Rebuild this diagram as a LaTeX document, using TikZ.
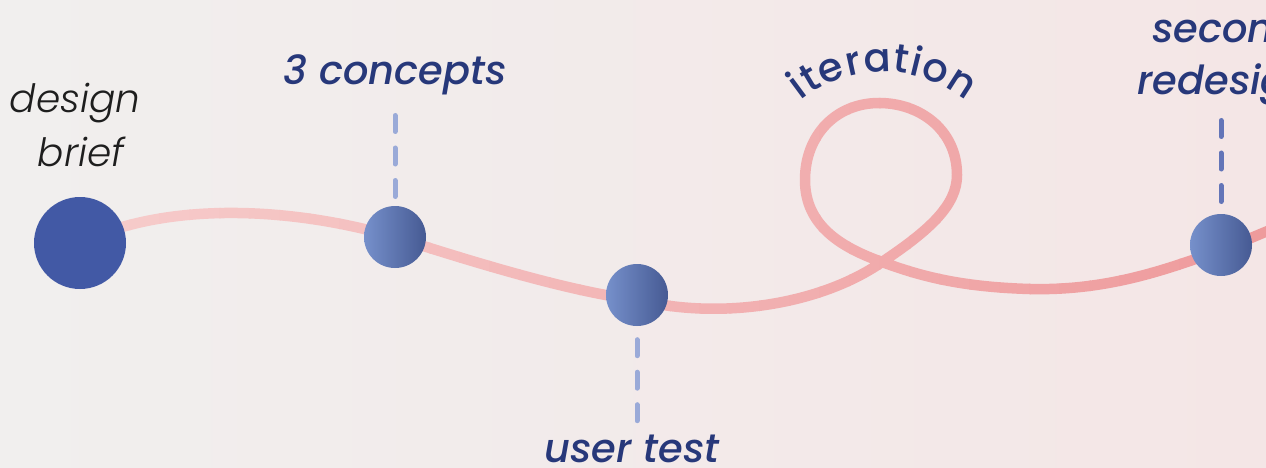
\documentclass[tikz,border=0pt]{standalone}
\usepackage{fontspec}
\setmainfont{Poppins}
\usetikzlibrary{decorations.text}

% label faces, falling back to slanted regular where a face is missing
\IfFontExistsTF{Poppins Medium Italic}
  {\newfontfamily\labelface{Poppins Medium Italic}}
  {\IfFontExistsTF{Poppins Italic}{\newfontfamily\labelface{Poppins Italic}}{\newfontfamily\labelface{Poppins}[FakeSlant=0.2]}}
\IfFontExistsTF{Poppins Light Italic}
  {\newfontfamily\lightface{Poppins Light Italic}}
  {\IfFontExistsTF{Poppins Italic}{\newfontfamily\lightface{Poppins Italic}}{\newfontfamily\lightface{Poppins}[FakeSlant=0.2]}}
\IfFontExistsTF{Poppins Medium}
  {\newfontfamily\arcface{Poppins Medium}}
  {\newfontfamily\arcface{Poppins}}

\definecolor{bgL}{HTML}{F1EFEE}
\definecolor{bgR}{HTML}{F4E6E6}
\definecolor{ink}{HTML}{27387A}
\definecolor{dark}{HTML}{1E1E1E}
\definecolor{briefblue}{HTML}{4259A5}
\definecolor{dotL}{HTML}{7690CB}
\definecolor{dotR}{HTML}{465A93}
\definecolor{waveL}{HTML}{F6CBCA}
\definecolor{waveR}{HTML}{EE999B}
\definecolor{dashA}{HTML}{9AAAD8}
\definecolor{dashB}{HTML}{6375B8}

\pgfdeclarelayer{back}
\pgfdeclarelayer{wavelayer}
\pgfsetlayers{back,wavelayer,main}

\begin{document}
\begin{tikzpicture}[x=1pt,y=-1pt,
  milestone/.style={circle, inner sep=0pt, minimum size=62pt, shading=axis,
    left color=dotL, right color=dotR, shading angle=90},
  startdot/.style={circle, inner sep=0pt, minimum size=92pt, fill=briefblue},
  stemline/.style={line width=5pt, line cap=round, dash pattern=on 16pt off 16.5pt},
  tag/.style={inner sep=0pt, text=ink, font=\labelface\fontsize{40}{48}\selectfont},
  brieftag/.style={inner sep=0pt, text=dark, font=\lightface\fontsize{39}{46}\selectfont}
]
\useasboundingbox (0,0) rectangle (1266,468);
\clip (0,0) rectangle (1266,468);

\begin{pgfonlayer}{back}
  \shade[left color=bgL, right color=bgR] (0,0) rectangle (1266,468);
\end{pgfonlayer}

% milestones
\node[startdot]  (n1) at (80,243) {};
\node[milestone] (n2) at (395,237) {};
\node[milestone] (n3) at (637,295) {};
\node[milestone] (n4) at (1221,245) {};

% the winding route, with its loop
\def\route{(n1.center) .. controls (160,204) and (280,204) .. (395,237)
  .. controls (470,261) and (570,292) .. (638,300)
  .. controls (720,320) and (820,305) .. (882,262)
  .. controls (930,230) and (957,205) .. (957,175)
  .. controls (957,130) and (920,103) .. (879,103)
  .. controls (836,103) and (805,135) .. (805,180)
  .. controls (805,225) and (840,247) .. (882,262)
  .. controls (920,276) and (960,287) .. (1030,289)
  .. controls (1110,291) and (1170,268) .. (1221,250)
  .. controls (1240,243) and (1255,236) .. (1280,226)}

% stroke the route strip by strip so its colour deepens to the right
\begin{pgfonlayer}{wavelayer}
\foreach \i in {0,...,39}{
  \pgfmathsetmacro\xa{100+\i*30-0.6}
  \pgfmathsetmacro\xb{100+(\i+1)*30+0.6}
  \pgfmathtruncatemacro\pct{100*\i/39}
  \colorlet{segcol}{waveR!\pct!waveL}
  \begin{scope}
    \clip (\xa,0) rectangle (\xb,468);
    \draw[segcol, line width=10.5pt] \route;
  \end{scope}
}
\end{pgfonlayer}

% labels
\node[brieftag, anchor=base] (l1a) at (75,113) {design};
\node[brieftag, anchor=base] (l1b) at (81,166) {brief};
\node[tag, anchor=base] (l2) at (395,85) {3 concepts};
\node[tag, anchor=base] (l3) at (632,462) {user test};
\node[tag, anchor=base west] (l4a) at (1152,43) {second};
\node[tag, anchor=base west] (l4b) at (1137,95) {redesign};

% dashed stems between labels and milestones
\coordinate (t2) at (395,115.5);
\coordinate (b3) at (637,421);
\coordinate (t4) at (1221,120.5);
\draw[stemline, dashA, shorten >=8pt] (t2) -- (n2);
\draw[stemline, dashA, shorten <=13.5pt] (n3) -- (b3);
\draw[stemline, dashB, shorten >=12pt] (t4) -- (n4);

% curved word over the loop
\path[decorate, decoration={text along path, text align={fit to path},
  text={|\arcface\fontsize{40}{44}\selectfont\color{ink}|iteration}}]
  (801,101) .. controls (850,62) and (915,62) .. (966,101);
\end{tikzpicture}
\end{document}
